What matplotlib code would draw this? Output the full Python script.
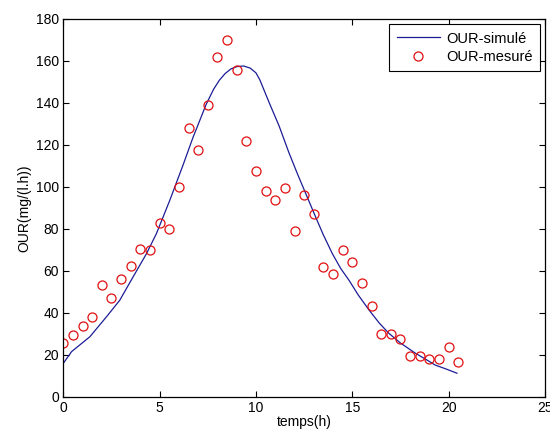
import numpy as np
import matplotlib.pyplot as plt

plt.rcParams['font.family'] = ['Liberation Sans', 'DejaVu Sans']
plt.rcParams['font.size'] = 10

# courbe simulée
t_sim = [0, 0.43, 1.38, 2.24, 2.93, 3.62, 4.31, 4.83, 5.52, 6.2, 6.73, 7.42, 7.8,
         8.1, 8.4, 8.7, 9.0, 9.35, 9.7, 10.0, 10.2, 10.69, 11.2, 11.72, 12.16,
         12.59, 13.1, 13.5, 13.97, 14.4, 14.83, 15.3, 15.87, 16.4, 16.9, 17.5,
         18.28, 18.8, 19.3, 19.9, 20.43]
our_sim = [15.8, 21.4, 28.5, 38, 45.9, 57, 68, 77.6, 93.4, 110, 123.5, 139.4, 146.5,
           150.8, 154, 156.2, 157.3, 157.6, 156.6, 154.3, 151, 140, 129, 116, 106,
           96.6, 85.5, 77, 68, 61, 55.4, 48.5, 41.2, 35, 30.1, 25.5,
           20.6, 17.8, 15, 13, 11.1]

# mesures
t_mes = np.arange(0, 21, 0.5)
our_mes = [25.3, 29.3, 33.6, 38, 53, 47.2, 56.2, 62, 70.2, 70, 82.6, 80,
           99.8, 128, 117.7, 139, 161.8, 170, 155.8, 122, 107.7, 98.2, 93.6, 99.5,
           78.9, 96.1, 86.8, 61.6, 58.3, 70, 64.1, 54.2, 43.2, 29.6, 29.6, 27.4,
           19.5, 19.5, 17.8, 18, 23.8, 16.5]

fig = plt.figure(figsize=(5.5, 4.34), dpi=100)
ax = fig.add_axes([63.3 / 550, (434 - 396.5) / 434, (545 - 63.3) / 550, (396.5 - 19) / 434])

ax.plot(t_sim, our_sim, color='#1c1c96', lw=0.9, label='OUR-simulé')
ax.plot(t_mes, our_mes, 'o', mfc='none', mec='#e01010', ms=6.5, mew=0.9,
        label='OUR-mesuré')

ax.set_xlim(0, 25)
ax.set_ylim(0, 180)
ax.set_xticks(range(0, 26, 5))
ax.set_yticks(range(0, 181, 20))
ax.tick_params(direction='in', top=True, right=True, length=4, width=0.8, pad=3)
for s in ax.spines.values():
    s.set_linewidth(0.9)

ax.set_xlabel('temps(h)', labelpad=0)
ax.set_ylabel('OUR(mg/(l.h))', labelpad=3)

leg = ax.legend(loc='upper right', bbox_to_anchor=(0.9896, 0.986), fancybox=False,
                edgecolor='black', framealpha=1, handlelength=3.0, borderpad=0.5,
                labelspacing=0.3, handletextpad=0.4, borderaxespad=0,
                fontsize=10.5)
leg.get_frame().set_linewidth(0.8)

fig.savefig('out.png', dpi=100)
